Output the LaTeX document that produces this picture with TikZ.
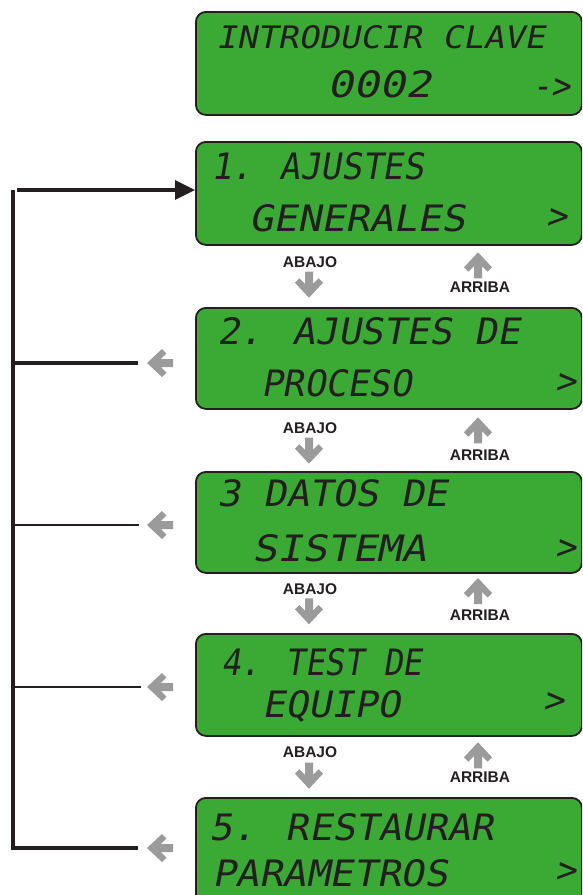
\documentclass[tikz,border=0pt]{standalone}
\usepackage{fontspec}
\setmainfont{Liberation Sans}
\newfontfamily\lcdfont[FakeSlant=0.18]{DejaVu Sans Mono}
\usetikzlibrary{arrows.meta}
\definecolor{lcdgreen}{HTML}{3AAA35}
\definecolor{ink}{HTML}{231F20}
\definecolor{garrowc}{HTML}{9B9B9B}
\newcommand\lcdtext[3]{\resizebox{#1pt}{#2pt}{\lcdfont #3}}
\begin{document}
\begin{tikzpicture}[x=1pt,y=-1pt,
  lcdbox/.style={draw=ink, line width=1.8pt, fill=lcdgreen, rounded corners=10pt, anchor=north west, minimum width=386pt, inner sep=0pt},
  lcdline/.style={inner sep=0pt, outer sep=0pt, anchor=base west, text=ink},
  lcdsym/.style={inner sep=0pt, outer sep=0pt, anchor=center, text=ink},
  navlabel/.style={font=\fontsize{15.5}{15.5}\selectfont\bfseries, text=ink, inner sep=0pt},
  bus/.style={draw=ink, line width=3.5pt},
  tap/.style={draw=ink, line width=2.2pt},
  garr/.pic={\fill[garrowc] (-4,0) -- (4,0) -- (4,12.2) -- (9.6,6.6) -- (14,11) -- (0,26) -- (-14,11) -- (-9.6,6.6) -- (-4,12.2) -- cycle;}
]
\useasboundingbox (0,0) rectangle (582,895);
\clip (0,0) rectangle (582,895);

% LCD boxes
\node[lcdbox, minimum height=103pt] (b0) at (195,11) {};
\node[lcdbox, minimum height=103pt] (b1) at (195,141) {};
\node[lcdbox, minimum height=101pt] (b2) at (195,307) {};
\node[lcdbox, minimum height=101pt] (b3) at (195,471) {};
\node[lcdbox, minimum height=102pt] (b4) at (195,633) {};
\node[lcdbox, minimum height=110pt] (b5) at (195,797) {};

% LCD texts
\node[lcdline] (t0a) at (216,48) {\lcdtext{329}{23}{INTRODUCIR CLAVE}};
\node[lcdline] (t0b) at (327,97.5) {\lcdtext{105}{27}{0002}};
\node[lcdsym] (t0c) at (551,88) {\lcdtext{38}{20}{->}};

\node[lcdline] (t1a) at (211,179.5) {\lcdtext{213}{27}{1. AJUSTES}};
\node[lcdline] (t1b) at (249,231.5) {\lcdtext{216}{27}{GENERALES}};
\node[lcdsym] (t1c) at (557,218) {\lcdtext{21}{20}{>}};

\node[lcdline] (t2a) at (217,344) {\lcdtext{303}{27}{2. AJUSTES DE}};
\node[lcdline] (t2b) at (261,396) {\lcdtext{151}{27}{PROCESO}};
\node[lcdsym] (t2c) at (566,383) {\lcdtext{21}{20}{>}};

\node[lcdline] (t3a) at (217,506) {\lcdtext{231}{27}{3 DATOS DE}};
\node[lcdline] (t3b) at (252,561) {\lcdtext{175}{27}{SISTEMA}};
\node[lcdsym] (t3c) at (566,549) {\lcdtext{21}{20}{>}};

\node[lcdline] (t4a) at (221,675) {\lcdtext{201}{27}{4. TEST DE}};
\node[lcdline] (t4b) at (262,717) {\lcdtext{138}{27}{EQUIPO}};
\node[lcdsym] (t4c) at (554,702) {\lcdtext{21}{20}{>}};

\node[lcdline] (t5a) at (209,840) {\lcdtext{285}{27}{5. RESTAURAR}};
\node[lcdline] (t5b) at (212,886) {\lcdtext{236}{27}{PARAMETROS}};
\node[lcdsym] (t5c) at (566,872) {\lcdtext{21}{20}{>}};

% navigation labels and arrows
\foreach \i/\ya/\yd/\yu/\yr in {1/261.7/271.7/278.3/287.3, 2/428.3/437.7/443.3/455, 3/589.3/598.3/604/615, 4/752.3/762.7/768.3/777.3}{
  \node[navlabel] (abajo\i) at (310,\ya) {ABAJO};
  \node[navlabel] (arriba\i) at (480,\yr) {ARRIBA};
  \pic at (309,\yd) {garr};
  \pic[rotate=180] at (478,\yu) {garr};
}

% bus
\coordinate (bustop) at (13,190);
\coordinate (busbot) at (13,848);
\coordinate (e2) at (138,363);
\coordinate (e3) at (139,525);
\coordinate (e4) at (141,687);
\coordinate (e5) at (138,848);
\draw[bus, line join=miter] (e5) -- (busbot) -- (bustop);
\draw[bus, line width=3.3pt, -{Triangle[length=20pt,width=19pt]}] ([xshift=4pt]bustop) -- (bustop -| b1.west);
\draw[bus] (busbot |- e2) -- (e2);
\draw[tap] (busbot |- e3) -- (e3);
\draw[tap] (busbot |- e4) -- (e4);

% grey back arrows
\pic[rotate=-90] at (173,363) {garr};
\pic[rotate=-90] at (173,525) {garr};
\pic[rotate=-90] at (173,687) {garr};
\pic[rotate=-90] at (173,848) {garr};
\end{tikzpicture}
\end{document}
